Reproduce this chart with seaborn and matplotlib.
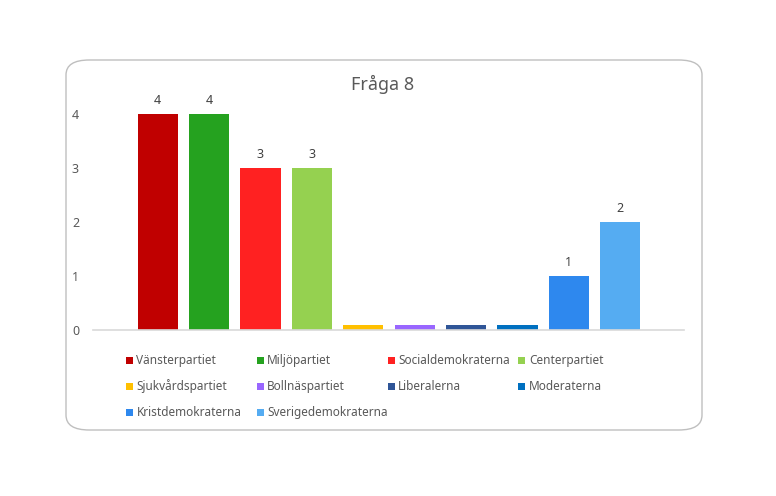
import matplotlib
matplotlib.use("Agg")
import matplotlib.pyplot as plt
import seaborn as sns
import pandas as pd
from matplotlib.patches import FancyBboxPatch, Rectangle

# --- Datos ---
partier = ["Vänsterpartiet", "Miljöpartiet", "Socialdemokraterna", "Centerpartiet",
           "Sjukvårdspartiet", "Bollnäspartiet", "Liberalerna", "Moderaterna",
           "Kristdemokraterna", "Sverigedemokraterna"]
antal = [4, 4, 3, 3, 0, 0, 0, 0, 1, 2]
# höjd som visas (nollorna ritas som en tunn stapel)
hojd = [4, 4, 3, 3, 0.1, 0.1, 0.1, 0.1, 1, 2]
farger = ["#C00000", "#25A21F", "#FF2121", "#95D150", "#FFC000",
          "#9966FF", "#2F5597", "#0070C0", "#2E88EE", "#55ACF2"]
yticks = [0, 1, 2, 3, 4]
titel = "Fråga 8"

W, H = 776, 496
TXT = "#595959"

sns.set_theme(style="white")
plt.rcParams["font.family"] = ["Noto Sans", "DejaVu Sans"]

fig = plt.figure(figsize=(W / 100, H / 100), dpi=100)

# rundad ram runt diagrammet (under allt annat)
ram = FancyBboxPatch((66 / W, 1 - 430 / H), (702 - 66) / W, (430 - 60) / H,
                     boxstyle="round,pad=0,rounding_size=0.03",
                     transform=fig.transFigure, fc="white", ec="#BFBFBF", lw=1.0,
                     zorder=-5)
fig.patches.append(ram)

# axes: x 93..684, y0 vid 330, 54 px per enhet
ymax = 4.5
ax = fig.add_axes([93 / W, 1 - 330 / H, (684 - 93) / W, 54 * ymax / H])
ax.patch.set_alpha(0)

df = pd.DataFrame({"parti": partier, "hojd": hojd})
sns.barplot(data=df, x="parti", y="hojd", hue="parti", palette=farger,
            order=partier, hue_order=partier, legend=False, width=0.78,
            saturation=1, linewidth=0, ax=ax)

etiketter = [str(v) if v > 0 else "" for v in antal]
for i, cont in enumerate(ax.containers):
    ax.bar_label(cont, labels=[etiketter[i]], padding=5, fontsize=9, color="#404040")

ax.set_xlim(-1.26, 10.24)
ax.set_ylim(0, ymax)
ax.set_yticks(yticks)
ax.set_yticklabels([str(t) for t in yticks])
ax.set_xticks([-1.26, 10.24])
ax.set_xticklabels(["", ""])
ax.set_xlabel("")
ax.set_ylabel("")
ax.tick_params(axis="y", length=0, pad=10, labelsize=9, labelcolor=TXT)
ax.tick_params(axis="x", length=4, color="#D9D9D9", direction="out", width=1)
for s in ["left", "right", "top"]:
    ax.spines[s].set_visible(False)
ax.spines["bottom"].set_color("#D9D9D9")
ax.spines["bottom"].set_linewidth(1.2)

fig.text(383 / W, 1 - 84 / H, titel, ha="center", va="center", fontsize=13, color=TXT)

# legend i 4 kolumner
for i, (namn, f) in enumerate(zip(partier, farger)):
    rad, kol = divmod(i, 4)
    x = 129.5 + kol * 130.8
    y = 360.5 + rad * 25.8
    fig.add_artist(Rectangle(((x - 3.5) / W, 1 - (y + 3.5) / H), 7 / W, 7 / H,
                             transform=fig.transFigure, fc=f, ec="none", zorder=3))
    fig.text((x + 7) / W, 1 - y / H, namn, ha="left", va="center",
             fontsize=8.5, color=TXT)

fig.savefig("out.png", dpi=100)
